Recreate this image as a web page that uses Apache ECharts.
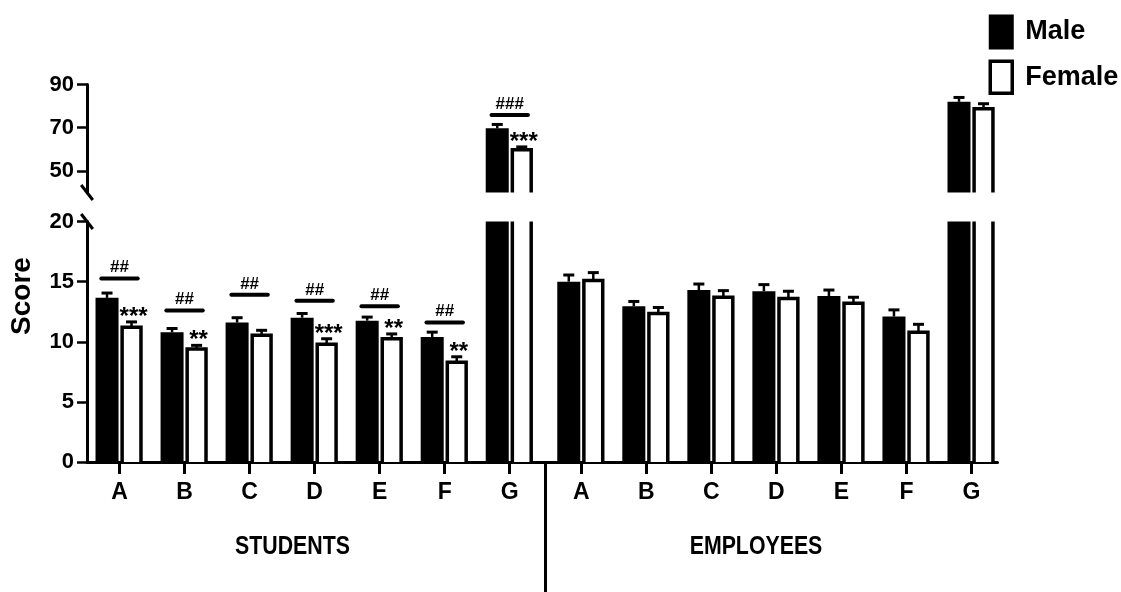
<!DOCTYPE html>
<html>
<head>
<meta charset="utf-8">
<script src="https://cdn.jsdelivr.net/npm/echarts@6/dist/echarts.min.js"></script>
<style>
html,body{margin:0;padding:0;background:#fff;}
#chart{width:1121px;height:592px;}
</style>
</head>
<body>
<div id="chart"></div>
<script>
// ---- data ----
const categories = ['A', 'B', 'C', 'D', 'E', 'F', 'G'];
const groupNames = ['STUDENTS', 'EMPLOYEES'];
const seriesNames = ['Male', 'Female'];

const studentsMale      = [13.65, 10.8, 11.6, 12.0, 11.75, 10.4, 69.7];
const studentsMaleSem   = [0.4, 0.3, 0.4, 0.35, 0.3, 0.4, 1.8];
const studentsFemale    = [11.2, 9.4, 10.55, 9.8, 10.25, 8.3, 59.8];
const studentsFemaleSem = [0.45, 0.3, 0.4, 0.45, 0.4, 0.45, 1.3];

const employeesMale      = [15.0, 12.95, 14.3, 14.2, 13.8, 12.1, 82.0];
const employeesMaleSem   = [0.55, 0.4, 0.5, 0.55, 0.5, 0.55, 2.0];
const employeesFemale    = [15.1, 12.35, 13.7, 13.6, 13.2, 10.8, 78.8];
const employeesFemaleSem = [0.65, 0.5, 0.55, 0.6, 0.5, 0.65, 2.3];

// male vs female significance (bracket) and vs-employees significance (stars)
const studentsHash      = ['##', '##', '##', '##', '##', '##', '###'];
const studentsHashLevel = [15.25, 12.6, 13.9, 13.4, 12.95, 11.6, 75.9];
const studentsStars     = ['***', '**', '', '***', '**', '**', '***'];

const lowerTicks = [0, 5, 10, 15, 20];
const upperTicks = [50, 70, 90];

// ---- layout ----
const FONT = '"Liberation Sans", Arial, Helvetica, sans-serif';
const groupStart = [0, 7.1];          // axis position of first category in each group
const gridLeft = 87, gridRight = 123.5;
const lowerTop = 221.5, lowerHeight = 240.5;
const upperTop = 84.5, upperHeight = 108;
const lowerRange = [0, 20], upperRange = [40, 90];
const xMin = -0.5, xMax = 13.5;

const groups = [
  {male: studentsMale, maleSem: studentsMaleSem, female: studentsFemale, femaleSem: studentsFemaleSem,
   hash: studentsHash, hashLevel: studentsHashLevel, stars: studentsStars},
  {male: employeesMale, maleSem: employeesMaleSem, female: employeesFemale, femaleSem: employeesFemaleSem,
   hash: [], hashLevel: [], stars: []}
];

const tickPos = [], tickLabel = [];
const maleRows = [], femaleRows = [];
groups.forEach((g, gi) => {
  categories.forEach((c, i) => {
    const x = groupStart[gi] + i;
    tickPos.push(x); tickLabel.push(c);
    maleRows.push({x, v: g.male[i], sem: g.maleSem[i], hash: g.hash[i] || '', hashLevel: g.hashLevel[i]});
    femaleRows.push({x, v: g.female[i], sem: g.femaleSem[i], stars: g.stars[i] || ''});
  });
});
const dividerX = ((categories.length - 1) + groupStart[1]) / 2;

function labelFor(v) {
  for (let i = 0; i < tickPos.length; i++) if (Math.abs(tickPos[i] - v) < 1e-6) return tickLabel[i];
  return '';
}

function makeRender(sex, seg, rows) {
  return function (params, api) {
    const row = rows[params.dataIndex];
    const x = api.value(0), v = api.value(1), sem = api.value(2);
    const children = [];
    const unit = api.size([1, 0])[0];
    const base = api.coord([x, seg[0]]);
    const cx = base[0];
    if (v > seg[0]) {
      const clipped = v > seg[1];
      const head = api.coord([x, Math.min(v, seg[1])]);
      const off = sex === 'm' ? [-0.369, -0.015] : [0.04, 0.33];
      const x0 = cx + unit * off[0], x1 = cx + unit * off[1];
      if (sex === 'm') {
        children.push({type: 'rect', shape: {x: x0, y: head[1], width: x1 - x0, height: base[1] - head[1]}, style: {fill: '#000'}});
      } else {
        children.push({type: 'rect', shape: {x: x0, y: head[1], width: x1 - x0, height: base[1] - head[1]}, style: {fill: '#fff'}});
        if (clipped) {
          children.push({type: 'line', shape: {x1: x0, y1: base[1], x2: x0, y2: head[1]}, style: {stroke: '#000', lineWidth: 3.5}});
          children.push({type: 'line', shape: {x1: x1, y1: base[1], x2: x1, y2: head[1]}, style: {stroke: '#000', lineWidth: 3.5}});
        } else {
          children.push({type: 'polyline', shape: {points: [[x0, base[1]], [x0, head[1]], [x1, head[1]], [x1, base[1]]]},
            style: {stroke: '#000', lineWidth: 3.5, fill: null, lineJoin: 'miter'}});
        }
      }
      if (!clipped) {
        const bc = (x0 + x1) / 2;
        const capY = api.coord([x, v + sem])[1];
        children.push({type: 'line', shape: {x1: bc, y1: head[1], x2: bc, y2: capY}, style: {stroke: '#000', lineWidth: 2.5}});
        children.push({type: 'line', shape: {x1: bc - 5.5, y1: capY, x2: bc + 5.5, y2: capY}, style: {stroke: '#000', lineWidth: 3}});
        if (sex === 'f' && row.stars) {
          children.push({type: 'text', x: bc + 2, y: capY - 4.5,
            style: {text: row.stars, font: 'bold 24px ' + FONT, fill: '#000', textAlign: 'center', textVerticalAlign: 'middle', align: 'center', verticalAlign: 'middle'}});
        }
      }
    }
    if (sex === 'm' && row.hash && row.hashLevel >= seg[0] && row.hashLevel <= seg[1]) {
      const hy = api.coord([x, row.hashLevel])[1];
      children.push({type: 'line', shape: {x1: cx - 0.28 * unit, y1: hy, x2: cx + 0.28 * unit, y2: hy},
        style: {stroke: '#000', lineWidth: 4, lineCap: 'round'}});
      children.push({type: 'text', x: cx, y: hy - 11,
        style: {text: row.hash, font: 'bold 17px ' + FONT, fill: '#000', textAlign: 'center', textVerticalAlign: 'middle', align: 'center', verticalAlign: 'middle'}});
    }
    return {type: 'group', children};
  };
}

const maleData = maleRows.map(r => [r.x, r.v, r.sem]);
const femaleData = femaleRows.map(r => [r.x, r.v, r.sem]);

const axisText = {fontFamily: FONT, fontWeight: 'bold', color: '#000'};

const option = {
  animation: false,
  backgroundColor: '#fff',
  grid: [
    {left: gridLeft, right: gridRight, top: lowerTop, height: lowerHeight},
    {left: gridLeft, right: gridRight, top: upperTop, height: upperHeight}
  ],
  xAxis: [
    {type: 'value', gridIndex: 0, min: xMin, max: xMax,
     axisLine: {show: true, onZero: false, lineStyle: {color: '#000', width: 3}},
     axisTick: {show: true, customValues: tickPos, length: 12, lineStyle: {color: '#000', width: 3}},
     axisLabel: {show: true, customValues: tickPos, formatter: labelFor, margin: 19, fontSize: 23, ...axisText},
     splitLine: {show: false}},
    {type: 'value', gridIndex: 0, min: xMin, max: xMax, position: 'bottom',
     axisLine: {show: false},
     axisTick: {show: true, customValues: [dividerX], length: 131, lineStyle: {color: '#000', width: 3}},
     axisLabel: {show: false},
     splitLine: {show: false}},
    {type: 'value', gridIndex: 1, min: xMin, max: xMax, show: false, splitLine: {show: false}}
  ],
  yAxis: [
    {type: 'value', gridIndex: 0, min: lowerRange[0], max: lowerRange[1], interval: 5,
     axisLine: {show: true, onZero: false, lineStyle: {color: '#000', width: 3}},
     axisTick: {show: true, customValues: lowerTicks, length: 10, lineStyle: {color: '#000', width: 2.5}},
     axisLabel: {show: true, customValues: lowerTicks, margin: 13, fontSize: 22, ...axisText},
     splitLine: {show: false}},
    {type: 'value', gridIndex: 1, min: upperRange[0], max: upperRange[1],
     axisLine: {show: true, onZero: false, lineStyle: {color: '#000', width: 3}},
     axisTick: {show: true, customValues: upperTicks, length: 10, lineStyle: {color: '#000', width: 2.5}},
     axisLabel: {show: true, customValues: upperTicks, margin: 13, fontSize: 22, ...axisText},
     splitLine: {show: false}}
  ],
  legend: {
    orient: 'vertical', left: 988.5, top: 14.5, padding: 0,
    itemWidth: 22, itemHeight: 32, itemGap: 10, selectedMode: false,
    textStyle: {fontFamily: FONT, fontWeight: 'bold', fontSize: 27, color: '#000', padding: [0, 0, 0, 8]},
    data: [
      {name: seriesNames[0], icon: 'rect', itemStyle: {color: '#000', borderColor: '#000', borderWidth: 3}},
      {name: seriesNames[1], icon: 'rect', itemStyle: {color: '#fff', borderColor: '#000', borderWidth: 3.5}}
    ]
  },
  series: [
    {type: 'custom', name: seriesNames[0], xAxisIndex: 0, yAxisIndex: 0, data: maleData,
     renderItem: makeRender('m', lowerRange, maleRows), itemStyle: {color: '#000'}, z: 3},
    {type: 'custom', name: seriesNames[1], xAxisIndex: 0, yAxisIndex: 0, data: femaleData,
     renderItem: makeRender('f', lowerRange, femaleRows), itemStyle: {color: '#fff', borderColor: '#000'}, z: 3},
    {type: 'custom', name: seriesNames[0], xAxisIndex: 2, yAxisIndex: 1, data: maleData,
     renderItem: makeRender('m', upperRange, maleRows), itemStyle: {color: '#000'}, z: 3},
    {type: 'custom', name: seriesNames[1], xAxisIndex: 2, yAxisIndex: 1, data: femaleData,
     renderItem: makeRender('f', upperRange, femaleRows), itemStyle: {color: '#fff', borderColor: '#000'}, z: 3}
  ],
  graphic: [
    // axis break marks
    {type: 'line', shape: {x1: gridLeft - 5.8, y1: upperTop + upperHeight - 7.5, x2: gridLeft + 5.8, y2: upperTop + upperHeight + 7.5},
     style: {stroke: '#000', lineWidth: 3}, z: 10},
    {type: 'line', shape: {x1: gridLeft - 5.8, y1: lowerTop - 7.5, x2: gridLeft + 5.8, y2: lowerTop + 7.5},
     style: {stroke: '#000', lineWidth: 3}, z: 10},
    {type: 'text', x: 22, y: 296, rotation: Math.PI / 2,
     style: {text: 'Score', font: 'bold 28px ' + FONT, fill: '#000', textAlign: 'center', textVerticalAlign: 'middle', align: 'center', verticalAlign: 'middle'}},
    {type: 'text', x: 292.5, y: 547, scaleX: 0.82,
     style: {text: groupNames[0], font: 'bold 26px ' + FONT, fill: '#000', textAlign: 'center', textVerticalAlign: 'middle', align: 'center', verticalAlign: 'middle'}},
    {type: 'text', x: 756, y: 547, scaleX: 0.82,
     style: {text: groupNames[1], font: 'bold 26px ' + FONT, fill: '#000', textAlign: 'center', textVerticalAlign: 'middle', align: 'center', verticalAlign: 'middle'}}
  ]
};

const chart = echarts.init(document.getElementById('chart'), null, {renderer: 'canvas'});
chart.setOption(option);
</script>
</body>
</html>
